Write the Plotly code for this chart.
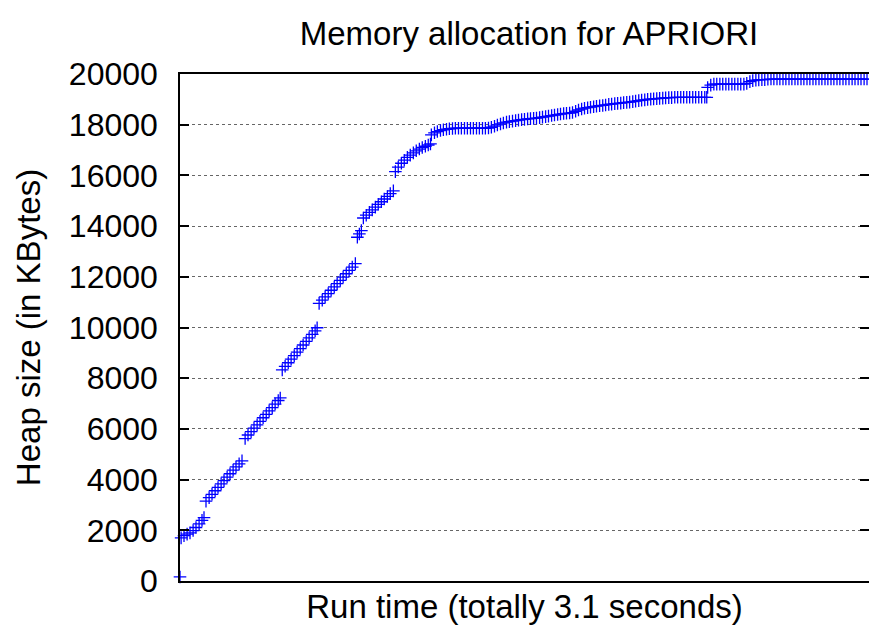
import plotly.graph_objects as go

# Run time (seconds) and heap size (KBytes)
time_s = [
    0.000,
    0.005, 0.018, 0.032, 0.045, 0.059, 0.072, 0.086, 0.099, 0.108,
    0.117, 0.131, 0.144, 0.158, 0.171, 0.185, 0.198, 0.212, 0.225, 0.239, 0.252, 0.266, 0.279,
    0.293, 0.306, 0.320, 0.333, 0.347, 0.360, 0.374, 0.388, 0.401, 0.415, 0.428, 0.442, 0.451,
    0.460, 0.473, 0.487, 0.500, 0.514, 0.527, 0.541, 0.554, 0.568, 0.581, 0.595, 0.608, 0.617,
    0.626, 0.640, 0.653, 0.667, 0.680, 0.694, 0.707, 0.721, 0.734, 0.748, 0.761, 0.775, 0.789,
    0.798, 0.807, 0.816,
    0.825, 0.838, 0.852, 0.865, 0.879, 0.892, 0.906, 0.919, 0.933, 0.946, 0.960,
    0.969, 0.982, 0.996, 1.009, 1.023, 1.036, 1.050, 1.063, 1.077, 1.090, 1.104, 1.117, 1.127,
    1.131, 1.145, 1.158, 1.172, 1.185, 1.199, 1.212, 1.226, 1.239, 1.253, 1.266, 1.280, 1.293,
    1.307, 1.320, 1.334, 1.347, 1.361, 1.374, 1.388, 1.401, 1.415, 1.428, 1.442, 1.455, 1.469,
    1.482, 1.496, 1.510, 1.523, 1.537, 1.550, 1.564, 1.577, 1.591, 1.604, 1.618, 1.631, 1.645,
    1.658, 1.672, 1.685, 1.699, 1.712, 1.726, 1.739, 1.753, 1.766, 1.780, 1.793, 1.807, 1.820,
    1.834, 1.847, 1.861, 1.874, 1.888, 1.902, 1.915, 1.929, 1.942, 1.956, 1.969, 1.983, 1.996,
    2.010, 2.023, 2.037, 2.050, 2.064, 2.077, 2.091, 2.104, 2.118, 2.131, 2.145, 2.158, 2.172,
    2.185, 2.199, 2.212, 2.226, 2.239, 2.253, 2.266, 2.280, 2.293, 2.307, 2.320, 2.334, 2.347,
    2.361, 2.370,
    2.374, 2.388, 2.402, 2.415, 2.429, 2.442, 2.456, 2.469, 2.483, 2.496, 2.510, 2.523, 2.537,
    2.550, 2.564, 2.577, 2.591, 2.604, 2.618, 2.631, 2.645,
    2.659, 2.672, 2.686, 2.699, 2.713, 2.726, 2.740, 2.753, 2.767, 2.780, 2.794, 2.807, 2.821,
    2.834, 2.848, 2.861, 2.875, 2.888, 2.902, 2.915, 2.929, 2.942, 2.956, 2.969, 2.983, 2.996,
    3.010, 3.024, 3.037, 3.051, 3.064, 3.078, 3.091,
]

heap_kb = [
    160,
    1700, 1790, 1850, 1900, 1990, 2110, 2250, 2390, 2500,
    3150, 3290, 3420, 3560, 3690, 3830, 3960, 4100, 4230, 4370, 4500, 4620, 4740,
    5620, 5760, 5890, 6030, 6160, 6300, 6440, 6570, 6710, 6840, 6980, 7120, 7220,
    8330, 8470, 8610, 8750, 8890, 9030, 9170, 9310, 9450, 9590, 9730, 9870, 9990,
    10950, 11080, 11210, 11340, 11470, 11600, 11730, 11860, 11990, 12120, 12250, 12380, 12520,
    13560, 13690, 13820,
    14320, 14430, 14540, 14640, 14750, 14860, 14960, 15070, 15170, 15280, 15390,
    16150, 16330, 16480, 16600, 16710, 16800, 16890, 16970, 17040, 17100, 17150, 17200, 17240,
    17600, 17680, 17730, 17770, 17800, 17820, 17840, 17850, 17860, 17860, 17860, 17860, 17860,
    17860, 17860, 17860, 17860, 17860, 17860, 17870, 17900, 17940, 17990, 18030, 18070, 18100,
    18120, 18140, 18160, 18180, 18200, 18210, 18230, 18240, 18250, 18260, 18280, 18300, 18320,
    18340, 18360, 18380, 18400, 18420, 18440, 18450, 18460, 18480, 18530, 18580, 18620, 18650,
    18670, 18690, 18710, 18730, 18750, 18760, 18780, 18800, 18810, 18830, 18840, 18850, 18870,
    18880, 18890, 18910, 18930, 18950, 18970, 18980, 19000, 19010, 19020, 19030, 19040, 19050,
    19060, 19070, 19070, 19080, 19080, 19080, 19080, 19080, 19080, 19080, 19080, 19080, 19080,
    19080, 19080,
    19470, 19560, 19600, 19600, 19600, 19600, 19600, 19600, 19600, 19600, 19600, 19600, 19600,
    19630, 19700, 19740, 19760, 19770, 19780, 19780, 19790,
    19800, 19800, 19800, 19800, 19800, 19800, 19800, 19800, 19800, 19800, 19800, 19800, 19800,
    19800, 19800, 19800, 19800, 19800, 19800, 19800, 19800, 19800, 19800, 19800, 19800, 19800,
    19800, 19800, 19800, 19800, 19800, 19800, 19800,
]

y_ticks = [0, 2000, 4000, 6000, 8000, 10000, 12000, 14000, 16000, 18000, 20000]

FONT = "Liberation Sans, Arial, sans-serif"

fig = go.Figure()
fig.add_trace(go.Scatter(
    x=time_s, y=heap_kb, mode="markers",
    marker=dict(symbol="cross-thin", size=9, color="#0000ff",
                line=dict(color="#0000ff", width=1.3)),
    showlegend=False, cliponaxis=False,
))

fig.update_layout(
    width=869, height=630,
    margin=dict(l=180, r=0, t=74, b=49),
    paper_bgcolor="white", plot_bgcolor="white",
    font=dict(family=FONT, color="black", size=32),
    title=dict(text="Memory allocation for APRIORI", x=529 / 869, xref="container",
               xanchor="center", y=1 - 33 / 630, yanchor="middle", yref="container",
               font=dict(size=33, family=FONT)),
    xaxis=dict(range=[0, 3.1], showticklabels=False, ticks="", showgrid=False,
               zeroline=False, showline=True, linecolor="black", linewidth=1.5,
               mirror=True,
               title=dict(text="Run time (totally 3.1 seconds)", standoff=13,
                          font=dict(size=33, family=FONT))),
    yaxis=dict(range=[0, 20000], tickvals=y_ticks, ticktext=[str(v) for v in y_ticks],
               ticks="inside", ticklen=9, tickwidth=1.5, tickcolor="black",
               showline=True, linecolor="black", linewidth=1.5, mirror=False,
               showgrid=True, gridcolor="#666666", griddash="dot", gridwidth=1,
               zeroline=False, ticklabelstandoff=14,
               tickfont=dict(size=32, family=FONT),
               title=dict(text="Heap size (in KBytes)", standoff=18,
                          font=dict(size=33, family=FONT))),
    yaxis2=dict(range=[0, 20000], tickvals=y_ticks, overlaying="y", side="right",
                ticks="inside", ticklen=9, tickwidth=1.5, tickcolor="black",
                showticklabels=False, showline=False, showgrid=False, zeroline=False),
)

# invisible helper trace so the right-side tick axis is rendered
fig.add_trace(go.Scatter(x=[time_s[0]], y=[heap_kb[0]], yaxis="y2", mode="markers",
                         marker=dict(opacity=0), showlegend=False, hoverinfo="skip"))

fig.write_html("out.html")
